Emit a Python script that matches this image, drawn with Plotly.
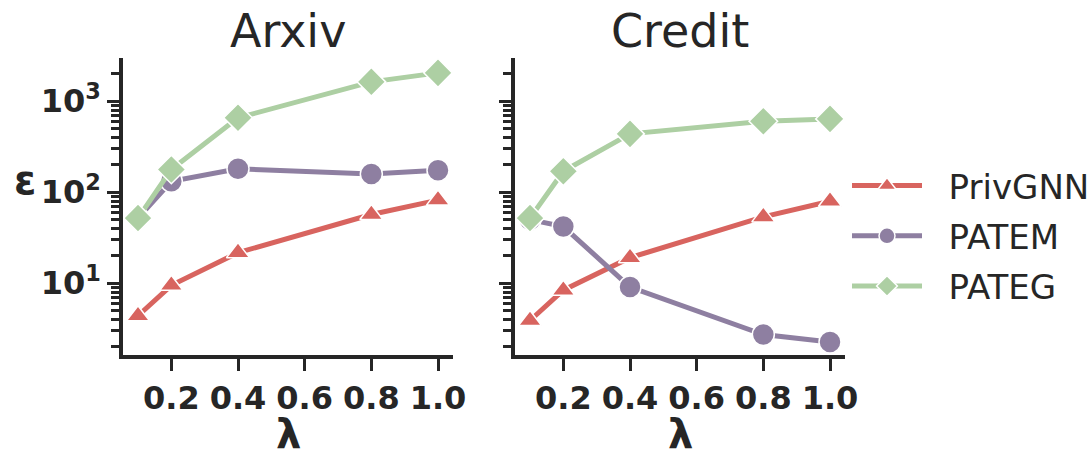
import plotly.graph_objects as go

# privacy-parameter sweep (x) and epsilon per method (y, log scale)
lam = [0.1, 0.2, 0.4, 0.8, 1.0]
datasets = ["Arxiv", "Credit"]
methods = ["PrivGNN", "PATEM", "PATEG"]

arxiv_privgnn = [4.4, 9.5, 21.7, 57, 82]
arxiv_patem = [52, 132, 181, 159, 175]
arxiv_pateg = [52, 178, 657, 1633, 2050]

credit_privgnn = [3.9, 8.4, 19.1, 53.6, 79.6]
credit_patem = [50, 42, 9.1, 2.73, 2.27]
credit_pateg = [52, 170, 438, 603, 640]

x_ticks = [0.2, 0.4, 0.6, 0.8, 1.0]
x_tick_labels = ["0.2", "0.4", "0.6", "0.8", "1.0"]
y_ticks = [10, 100, 1000]
y_tick_labels = ["10<sup>1</sup>", "10<sup>2</sup>", "10<sup>3</sup>"]
y_minor_ticks = [m * 10 ** e for e in range(0, 4) for m in range(2, 10) if m * 10 ** e <= 2000]

colors = {"PrivGNN": "#d8645f", "PATEM": "#8e7fa1", "PATEG": "#adcfa3"}
symbols = {"PrivGNN": "triangle-up", "PATEM": "circle", "PATEG": "diamond"}
sizes = {"PrivGNN": 20, "PATEM": 22, "PATEG": 22}

series = {
    "Arxiv": [arxiv_privgnn, arxiv_patem, arxiv_pateg],
    "Credit": [credit_privgnn, credit_patem, credit_pateg],
}

INK = "#262626"
FONT = "DejaVu Sans"
W, H = 1090, 453
LEGEND_PAD = "\u00a0\u00a0"  # gap between legend sample line and label

fig = go.Figure()
for i, ds in enumerate(datasets):
    xa = "x" if i == 0 else "x2"
    ya = "y" if i == 0 else "y2"
    for m, vals in zip(methods, series[ds]):
        fig.add_trace(go.Scatter(
            x=lam, y=vals, xaxis=xa, yaxis=ya, name=LEGEND_PAD + m,
            mode="lines+markers", legendgroup=m, showlegend=(i == 0),
            line=dict(color=colors[m], width=5),
            marker=dict(symbol=symbols[m], size=sizes[m], color=colors[m],
                        line=dict(color="white", width=1.5)),
        ))

x_domains = [[123 / W, 453 / W], [515 / W, 845 / W]]
y_domain = [1 - 355 / H, 1 - 58 / H]

axis_common = dict(
    showline=True, linewidth=3.5, linecolor=INK, showgrid=False, zeroline=False,
    ticks="outside", ticklen=12, tickwidth=3, tickcolor=INK, automargin=False,
    tickfont=dict(family=FONT, size=32, color=INK, weight="bold"),
)

for i in range(2):
    sfx = "" if i == 0 else "2"
    fig.update_layout(**{
        "xaxis" + sfx: dict(
            axis_common, domain=x_domains[i], anchor="y" + sfx,
            range=[0.055, 1.045], tickmode="array",
            tickvals=x_ticks, ticktext=x_tick_labels,
        ),
        "yaxis" + sfx: dict(
            axis_common, domain=y_domain, anchor="x" + sfx, type="log",
            range=[0.212, 3.475], tickmode="array",
            tickvals=y_ticks, ticktext=y_tick_labels, showticklabels=(i == 0),
            minor=dict(tickmode="array", tickvals=y_minor_ticks, ticks="outside",
                       ticklen=8, tickwidth=2.5, tickcolor=INK, showgrid=False),
        ),
    })

annotations = []
for i, ds in enumerate(datasets):
    cx = (x_domains[i][0] + x_domains[i][1]) / 2
    annotations.append(dict(
        text=ds, x=cx, y=1 - 31 / H, xref="paper", yref="paper",
        xanchor="center", yanchor="middle", showarrow=False,
        font=dict(family=FONT, size=46, color=INK),
    ))
    annotations.append(dict(
        text="λ", x=cx, y=1 - 434 / H, xref="paper", yref="paper",
        xanchor="center", yanchor="middle", showarrow=False,
        font=dict(family=FONT, size=40, color=INK, weight="bold"),
    ))
annotations.append(dict(
    text="ε", x=25 / W, y=1 - 180 / H, xref="paper", yref="paper",
    xanchor="center", yanchor="middle", showarrow=False,
    font=dict(family=FONT, size=40, color=INK, weight="bold"),
))

fig.update_layout(
    width=W, height=H,
    margin=dict(l=0, r=0, t=0, b=0, autoexpand=False),
    paper_bgcolor="white", plot_bgcolor="white",
    annotations=annotations,
    showlegend=True,
    legend=dict(
        x=847 / W, y=1 - 157 / H, xanchor="left", yanchor="top",
        font=dict(family=FONT, size=34, color=INK),
        itemwidth=70, tracegroupgap=3, bgcolor="rgba(0,0,0,0)",
    ),
)

fig.write_html("out.html")
